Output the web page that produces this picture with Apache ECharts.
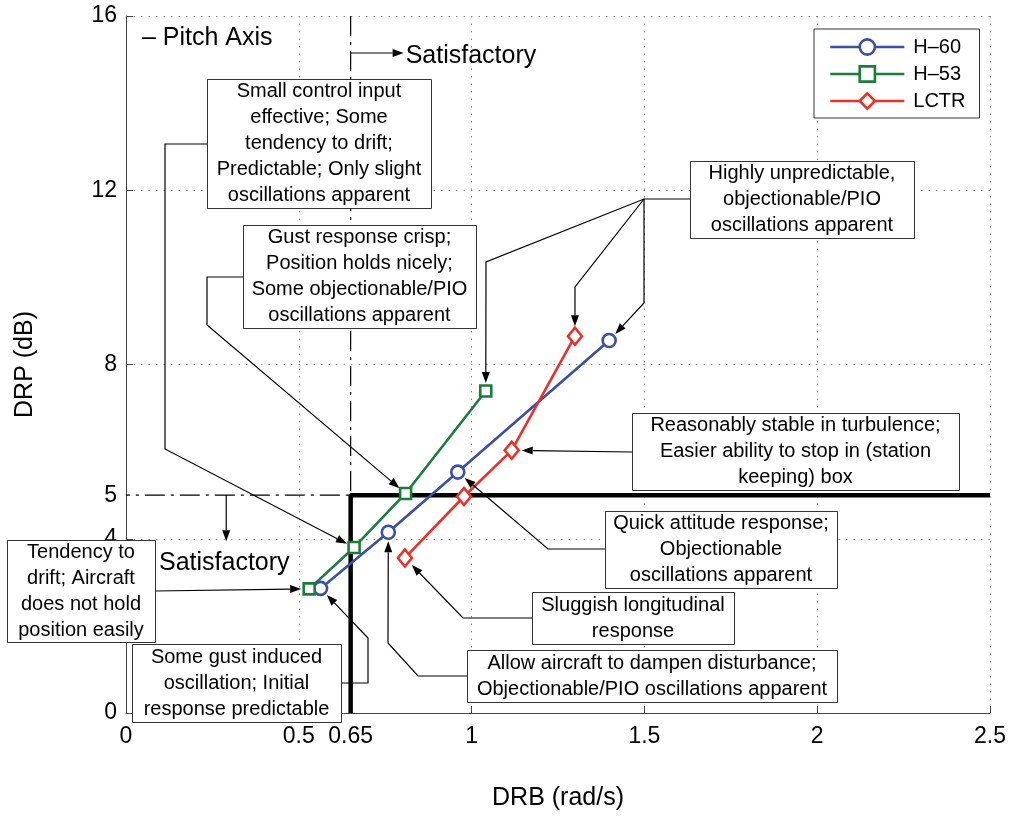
<!DOCTYPE html>
<html>
<head>
<meta charset="utf-8">
<script src="https://cdn.jsdelivr.net/npm/echarts@6/dist/echarts.min.js"></script>
<style>
  html, body { margin: 0; padding: 0; background: #fff; }
  #chart { width: 1012px; height: 816px; }
</style>
</head>
<body>
<div id="chart"></div>
<script>
// axis tick labels
const xTicks = [0, 0.5, 0.65, 1, 1.5, 2, 2.5];
const yTicks = [0, 4, 5, 8, 12, 16];

// DRB (rad/s) / DRP (dB) per aircraft
const h60Drb = [0.563, 0.759, 0.960, 1.398];
const h60Drp = [2.86, 4.15, 5.53, 8.55];
const h53Drb = [0.530, 0.660, 0.809, 1.041];
const h53Drp = [2.85, 3.80, 5.04, 7.39];
const lctrDrb = [0.807, 0.978, 1.116, 1.299];
const lctrDrp = [3.56, 4.97, 6.03, 8.65];

// satisfactory boundary
const limitDrb = 0.65;
const limitDrp = 5;

const seriesNames = ['H\u201360', 'H\u201353', 'LCTR'];

const FONT = '"Liberation Sans", Arial, Helvetica, sans-serif';
const pair = (xs, ys) => xs.map((x, i) => [x, ys[i]]);

const chart = echarts.init(document.getElementById('chart'));

const lineSeries = (name, data, color, symbol, size) => ({
    name: name,
    type: 'line',
    data: data,
    symbol: symbol,
    symbolSize: size,
    showSymbol: true,
    lineStyle: { color: color, width: 2.6 },
    itemStyle: { color: '#fff', borderColor: color, borderWidth: 2.6 },
    emphasis: { disabled: true },
    z: 5
});

chart.setOption({
    animation: false,
    grid: { left: 126, right: 22, top: 16, bottom: 102 },
    legend: {
        data: seriesNames,
        orient: 'vertical',
        left: 814, top: 29,
        padding: [8, 14, 7, 15],
        borderColor: '#333', borderWidth: 1,
        backgroundColor: '#fff',
        itemWidth: 74, itemHeight: 19, itemGap: 7,
        lineStyle: { width: 2.6 },
        itemStyle: { borderWidth: 2.6 },
        textStyle: { fontFamily: FONT, fontSize: 20, color: '#000', padding: [0, 0, 0, 4] },
        z: 20
    },
    xAxis: {
        type: 'value', min: 0, max: 2.5, interval: 0.5,
        name: 'DRB (rad/s)', nameLocation: 'middle', nameGap: 73,
        nameTextStyle: { fontFamily: FONT, fontSize: 25, color: '#000' },
        axisLine: { lineStyle: { color: '#444', width: 1 } },
        axisTick: { inside: true, length: 7, lineStyle: { color: '#444' } },
        axisLabel: { customValues: xTicks, fontFamily: FONT, fontSize: 23, color: '#000', margin: 12 },
        splitLine: { show: true, lineStyle: { type: [1.5, 6], color: '#888', width: 1 } }
    },
    yAxis: {
        type: 'value', min: 0, max: 16, interval: 4,
        name: 'DRP (dB)', nameLocation: 'middle', nameGap: 88, nameRotate: 90,
        nameTextStyle: { fontFamily: FONT, fontSize: 25, color: '#000' },
        axisLine: { show: true, lineStyle: { color: '#444', width: 1 } },
        axisTick: { show: true, inside: true, length: 7, lineStyle: { color: '#444' } },
        axisLabel: { customValues: yTicks, fontFamily: FONT, fontSize: 23, color: '#000', margin: 9 },
        splitLine: { show: true, lineStyle: { type: [1.5, 6], color: '#888', width: 1 } }
    },
    series: [
        {
            name: 'limit-dash', type: 'line', symbol: 'none', silent: true,
            data: [[limitDrb, 16], [limitDrb, limitDrp], [0, limitDrp]],
            lineStyle: { color: '#000', width: 1.2, type: [20, 6, 3, 6] }, z: 2
        },
        {
            name: 'limit', type: 'line', symbol: 'none', silent: true,
            data: [[limitDrb, 0], [limitDrb, limitDrp], [2.5, limitDrp]],
            lineStyle: { color: '#000', width: 4.5 }, z: 3
        },
        lineSeries(seriesNames[0], pair(h60Drb, h60Drp), '#3a4fa6', 'circle', 13),
        lineSeries(seriesNames[1], pair(h53Drb, h53Drp), '#1b7d3b', 'rect', 11),
        lineSeries(seriesNames[2], pair(lctrDrb, lctrDrp), '#ec2f29', 'diamond', [14, 17])
    ]
});

// ---------------------------------------------------------------
// annotations (boxes in pixels, arrow tips on the data points)

const pts = {
    H60: pair(h60Drb, h60Drp),
    H53: pair(h53Drb, h53Drp),
    LCTR: pair(lctrDrb, lctrDrp)
};
const tipGap = { H60: 9, H53: 8, LCTR: 10 };
const px = (v) => chart.convertToPixel({ xAxisIndex: 0, yAxisIndex: 0 }, v);

const notes = [
    { lines: ['Small control input', 'effective; Some', 'tendency to drift;', 'Predictable; Only slight', 'oscillations apparent'],
      box: [207, 79, 224, 129], legs: [{ path: [[207, 144], [165, 144], [165, 449]], to: ['H53', 1] }] },
    { lines: ['Gust response crisp;', 'Position holds nicely;', 'Some objectionable/PIO', 'oscillations apparent'],
      box: [243, 225, 233, 103], legs: [{ path: [[243, 277], [207, 277], [207, 325]], to: ['H53', 2] }] },
    { lines: ['Highly unpredictable,', 'objectionable/PIO', 'oscillations apparent'],
      box: [690, 161, 224, 77], legs: [
        { path: [[690, 199], [644, 199], [486, 262]], to: ['H53', 3] },
        { path: [[644, 199], [575, 287]], to: ['LCTR', 3] },
        { path: [[644, 199], [644, 303]], to: ['H60', 3] }] },
    { lines: ['Reasonably stable in turbulence;', 'Easier ability to stop in (station', 'keeping) box'],
      box: [632, 413, 327, 77], legs: [{ path: [[632, 452]], to: ['LCTR', 2] }] },
    { lines: ['Quick attitude response;', 'Objectionable', 'oscillations apparent'],
      box: [605, 511, 232, 77], legs: [{ path: [[605, 549], [548, 549]], to: ['H60', 2] }] },
    { lines: ['Sluggish longitudinal', 'response'],
      box: [532, 592, 202, 52], legs: [{ path: [[532, 618], [463, 618]], to: ['LCTR', 0] }] },
    { lines: ['Allow aircraft to dampen disturbance;', 'Objectionable/PIO oscillations apparent'],
      box: [467, 650, 370, 52], legs: [{ path: [[467, 676], [418, 676], [388, 643]], to: ['H60', 1] }] },
    { lines: ['Tendency to', 'drift; Aircraft', 'does not hold', 'position easily'],
      box: [7, 540, 148, 102], legs: [{ path: [[155, 591]], to: ['H53', 0] }] },
    { lines: ['Some gust induced', 'oscillation; Initial', 'response predictable'],
      box: [132, 644, 209, 78], legs: [{ path: [[341, 683], [368, 683], [368, 638]], to: ['H60', 0] }] }
];

function arrowEls(path, target, gap) {
    const last = path[path.length - 1];
    const dx = target[0] - last[0], dy = target[1] - last[1];
    const len = Math.hypot(dx, dy);
    const ux = dx / len, uy = dy / len;
    const tip = [target[0] - ux * gap, target[1] - uy * gap];
    const base = [tip[0] - ux * 11, tip[1] - uy * 11];
    const nx = -uy * 4, ny = ux * 4;
    return [
        { type: 'polyline', z: 100, shape: { points: path.concat([base]) },
          style: { stroke: '#000', lineWidth: 1.2, fill: null } },
        { type: 'polygon', z: 100, shape: { points: [tip, [base[0] + nx, base[1] + ny], [base[0] - nx, base[1] - ny]] },
          style: { fill: '#000' } }
    ];
}

const els = [];
notes.forEach(function (n) {
    n.legs.forEach(function (leg) {
        const p = px(pts[leg.to[0]][leg.to[1]]);
        arrowEls(leg.path, p, tipGap[leg.to[0]]).forEach(e => els.push(e));
    });
    const b = n.box;
    els.push({ type: 'rect', z: 101, shape: { x: b[0] + 0.5, y: b[1] + 0.5, width: b[2], height: b[3] },
        style: { fill: '#fff', stroke: '#333', lineWidth: 1 } });
    els.push({ type: 'text', z: 102, x: b[0] + b[2] / 2, y: b[1] + b[3] / 2,
        style: { text: n.lines.join('\n'), align: 'center', verticalAlign: 'middle',
                 font: '20px ' + FONT, lineHeight: 26, fill: '#000' } });
});

// "Satisfactory" markers tied to the boundary
const topStart = px([limitDrb, 16]);
arrowEls([[topStart[0], 53]], [topStart[0] + 53, 53], 0).forEach(e => els.push(e));
els.push({ type: 'text', z: 102, x: topStart[0] + 55, y: 56,
    style: { text: 'Satisfactory', align: 'left', verticalAlign: 'middle', font: '25px ' + FONT, fill: '#000' } });

const leftStart = px([0.29, limitDrp]);
arrowEls([[leftStart[0], leftStart[1]]], [leftStart[0], leftStart[1] + 46], 0).forEach(e => els.push(e));
els.push({ type: 'text', z: 102, x: 159, y: 563,
    style: { text: 'Satisfactory', align: 'left', verticalAlign: 'middle', font: '25px ' + FONT, fill: '#000' } });

els.push({ type: 'text', z: 102, x: 142, y: 38,
    style: { text: '\u2013 Pitch Axis', align: 'left', verticalAlign: 'middle', font: '25px ' + FONT, fill: '#000' } });

chart.setOption({ graphic: { elements: els } });
</script>
</body>
</html>
